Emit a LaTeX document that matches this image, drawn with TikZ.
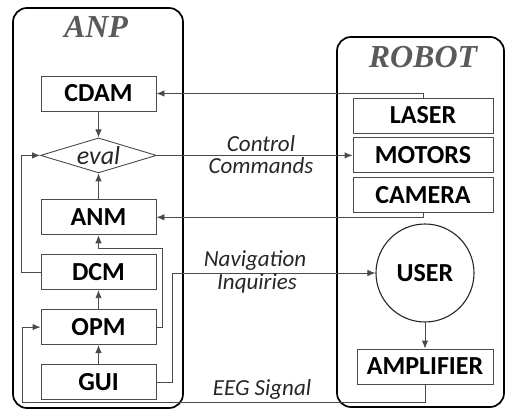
\documentclass[tikz,border=0pt]{standalone}
\usepackage{fontspec}
\setmainfont{Liberation Serif}
\setsansfont{Carlito}
\usetikzlibrary{positioning,shapes.geometric,arrows.meta}
\definecolor{LinkGray}{HTML}{4A4A4A}
\definecolor{TitleGray}{HTML}{5A5A5A}

\begin{document}
\begin{tikzpicture}[x=1pt,y=-1pt,node distance=19pt,>={Latex[length=8pt,width=6.5pt]},
                    frame/.style={draw=black, line width=1.7pt, rounded corners=14pt},
                    title/.style={anchor=base, text=TitleGray,
                                  font=\rmfamily\bfseries\itshape\fontsize{32}{36}\selectfont},
                    module/.style={draw=LinkGray, line width=0.9pt, inner sep=0pt,
                                   minimum width=115pt, minimum height=35pt,
                                   font=\sffamily\bfseries\fontsize{26}{30}\selectfont},
                    tag/.style={anchor=base, inner sep=0pt, text=black!85,
                                font=\sffamily\itshape\fontsize{23}{27}\selectfont},
                    link/.style={->, draw=LinkGray, line width=0.9pt}]
\useasboundingbox (0,0) rectangle (506,409);
\draw[frame] (13,8) rectangle (183,408);
\draw[frame] (337,37) rectangle (504,407);
\node[title] (anptitle) at (96,38) {ANP};
\node[title] (robottitle) at (423,68) {ROBOT};

\node[module] (cdam) at (98.5,93.5) {CDAM};
\node[diamond, aspect=3.3, draw=LinkGray, line width=0.9pt, inner sep=0pt,
      minimum width=116pt, minimum height=35pt, text=black!85,
      font=\sffamily\itshape\fontsize{26}{30}\selectfont, below=26pt of cdam] (eval) {eval};
\node[module, below=26pt of eval] (anm) {ANM};
\node[module, below=of anm] (dcm) {DCM};
\node[module, below=of dcm] (opm) {OPM};
\node[module, below=of opm] (gui) {GUI};

\node[module, minimum width=140pt] (laser) at (423,115.5) {LASER};
\node[module, minimum width=140pt, below=4pt of laser] (motors) {MOTORS};
\node[module, minimum width=140pt, below=4pt of motors] (camera) {CAMERA};
\node[circle, draw=black!85, line width=1.1pt, minimum size=98pt, inner sep=0pt,
      font=\sffamily\bfseries\fontsize{26}{30}\selectfont] (user) at (425,273) {USER};
\node[module, minimum width=136pt, below=26pt of user] (amp) {AMPLIFIER};

\draw[link] (laser.north) |- (cdam.east);
\draw[link] (cdam) -- (eval);
\draw[link] (anm) -- (eval);
\draw[link] (eval) -- (motors);
\draw[link] (camera.south) |- (anm.east);
\draw[link] (dcm.west) -- ++(-19,0) |- (eval.west);
\draw[link] (opm.east) -- ++(6,0) |- ([yshift=-13pt]anm.south) -- (anm.south);
\draw[link] (opm) -- (dcm);
\draw[link] (gui) -- (opm);
\draw[link] (gui.east) -- ++(16,0) |- (user.west);
\draw[link] (user) -- (amp);
\coordinate (eegbend) at (22,402);
\draw[link] (amp.south) |- (eegbend) |- (opm.west);

\node[tag] (ctrl) at (261,151) {Control};
\node[tag] (cmds) at (261,173) {Commands};
\node[tag] (nav) at (255,266) {Navigation};
\node[tag] (inq) at (257,289) {Inquiries};
\node[tag] (eeg) at (262,395) {EEG Signal};
\end{tikzpicture}
\end{document}
